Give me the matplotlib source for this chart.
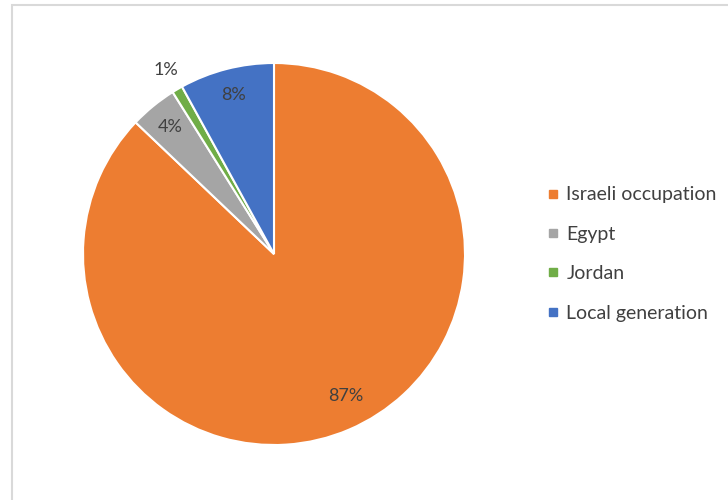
import matplotlib
matplotlib.use("Agg")
import matplotlib.pyplot as plt
from matplotlib.patches import Rectangle
from matplotlib.lines import Line2D
import numpy as np

plt.rcParams['font.family'] = ['Lato', 'DejaVu Sans']

# Electricity supply sources (share of total, %)
sources = ["Israeli occupation", "Egypt", "Jordan", "Local generation"]
shares = [87.1, 4.0, 0.9, 8.0]
colors = ["#ED7D31", "#A5A5A5", "#70AD47", "#4472C4"]

W, H = 728, 500
fig = plt.figure(figsize=(W / 100, H / 100), dpi=100)
fig.patch.set_facecolor("white")

# Light chart-area border
fig.add_artist(Rectangle((12 / W, -0.1), 1.2, (H - 5) / H + 0.1,
                         transform=fig.transFigure, fill=False,
                         edgecolor="#D9D9D9", linewidth=1.5))

# Square axes holding the pie
cx, cy, r = 274, 254, 191
ax = fig.add_axes([(cx - r) / W, (H - cy - r) / H, 2 * r / W, 2 * r / H])
wedges, texts, autotexts = ax.pie(
    shares, colors=colors, startangle=90, counterclock=False,
    autopct="%.0f%%", pctdistance=0.86,
    wedgeprops=dict(edgecolor="white", linewidth=1.5),
    textprops=dict(color="#404040", fontsize=13))
ax.set_xlim(-1, 1)
ax.set_ylim(-1, 1)
ax.axis("off")

# Small slice label sits just outside the rim; the large one a bit inward
for w, t, s in zip(wedges, autotexts, shares):
    mid = (w.theta1 + w.theta2) / 2
    if s < 2:
        a = np.deg2rad(mid)
        t.set_position((1.12 * np.cos(a), 1.12 * np.sin(a)))
    elif s > 50:
        a = np.deg2rad(mid + 3.5)
        t.set_position((0.83 * np.cos(a), 0.83 * np.sin(a)))

handles = [Line2D([], [], marker="s", linestyle="none", markersize=6,
                  markerfacecolor=c, markeredgecolor=c) for c in colors]
fig.legend(handles, sources, loc="center left",
           bbox_to_anchor=(540 / W, (H - 254) / H), frameon=False,
           fontsize=14, labelcolor="#404040", labelspacing=1.15,
           handlelength=0.55, handletextpad=0.4, borderaxespad=0)

fig.savefig("out.png", dpi=100, facecolor="white")
